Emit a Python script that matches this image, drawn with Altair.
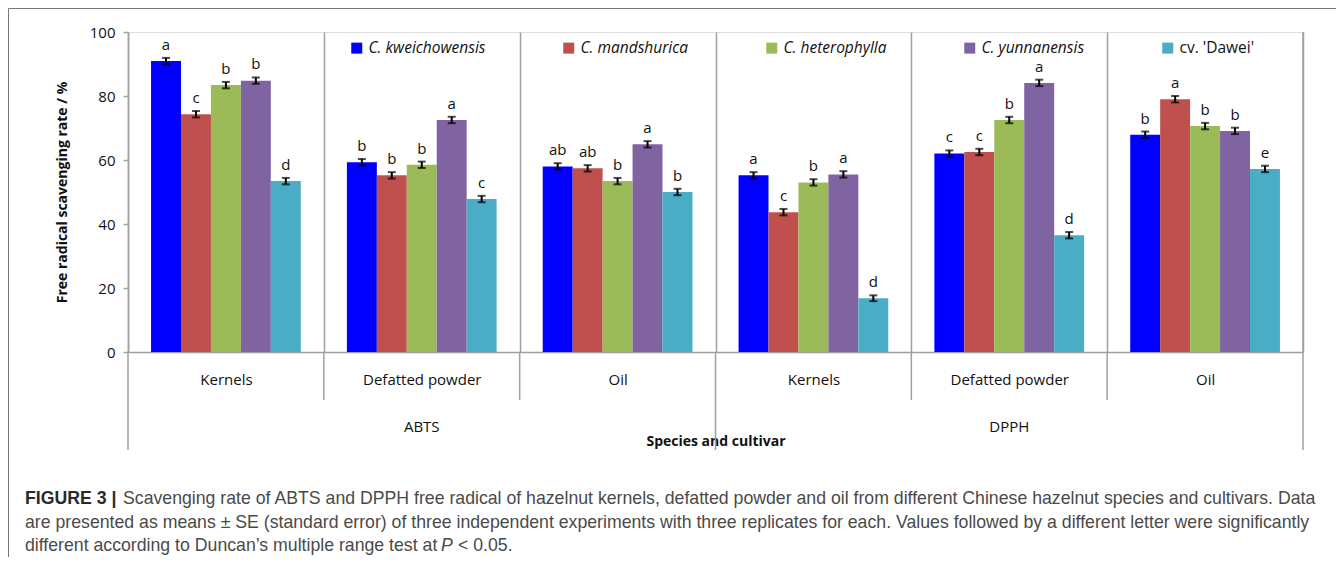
import altair as alt
import pandas as pd

species = ["C. kweichowensis", "C. mandshurica", "C. heterophylla", "C. yunnanensis", "cv. 'Dawei'"]
colors = ["#0000FF", "#C0504D", "#9BBB59", "#8064A2", "#4BACC6"]
methods = ["ABTS", "DPPH"]
materials = ["Kernels", "Defatted powder", "Oil"]
groups = [f"{m}|{t}" for m in methods for t in materials]

# values per species across groups (ABTS K, D, O, DPPH K, D, O)
val_kwei = [90.9, 59.3, 58.0, 55.2, 62.0, 67.9]
val_mand = [74.3, 55.2, 57.4, 43.7, 62.5, 79.0]
val_hete = [83.4, 58.5, 53.4, 53.0, 72.5, 70.6]
val_yunn = [84.8, 72.5, 64.9, 55.5, 84.1, 69.1]
val_dawei = [53.4, 47.8, 50.0, 16.8, 36.5, 57.2]

se_kwei = [1.0, 1.0, 1.0, 1.0, 1.0, 1.0]
se_mand = [1.0, 1.0, 1.0, 1.0, 1.0, 1.0]
se_hete = [1.0, 1.0, 1.0, 1.0, 1.0, 1.0]
se_yunn = [1.0, 1.0, 1.0, 1.0, 1.0, 1.0]
se_dawei = [1.0, 1.0, 1.0, 0.9, 1.0, 1.0]

let_kwei = ["a", "b", "ab", "a", "c", "b"]
let_mand = ["c", "b", "ab", "c", "c", "a"]
let_hete = ["b", "b", "b", "b", "b", "b"]
let_yunn = ["b", "a", "a", "a", "a", "b"]
let_dawei = ["d", "c", "b", "d", "d", "e"]

y_title = "Free radical scavenging rate / %"
x_title = "Species and cultivar"
y_ticks = [0, 20, 40, 60, 80, 100]

cap1_bold = "FIGURE 3 |"
cap1 = ("Scavenging rate of ABTS and DPPH free radical of hazelnut kernels, defatted powder and oil "
        "from different Chinese hazelnut species and cultivars. Data")
cap2 = ("are presented as means \u00b1 SE (standard error) of three independent experiments with three "
        "replicates for each. Values followed by a different letter were significantly")
cap3a = "different according to Duncan\u2019s multiple range test at"
cap3b = "P"
cap3c = "< 0.05."

rows = []
for sp, vals, ses, lets in zip(
    species,
    [val_kwei, val_mand, val_hete, val_yunn, val_dawei],
    [se_kwei, se_mand, se_hete, se_yunn, se_dawei],
    [let_kwei, let_mand, let_hete, let_yunn, let_dawei],
):
    for g, v, s, l in zip(groups, vals, ses, lets):
        rows.append(dict(grp=g, species=sp, value=v, lo=v - s, hi=v + s, letter=l))
df = pd.DataFrame(rows)

FONT = "Open Sans"
CAPFONT = "Liberation Sans"
GRID = "#a0a0a0"

x_axis = alt.Axis(
    title=x_title, labelExpr="split(datum.label, '|')[1]", labelAngle=0,
    ticks=False, tickSize=0, grid=True, tickBand="extent", gridColor=GRID, gridWidth=1.5,
    domainColor=GRID, domainWidth=1.5, labelFont=FONT, labelFontSize=15, labelColor="#111",
    labelPadding=20, titleFont=FONT, titleFontSize=14, titleFontWeight="bold",
    titleColor="#111", titlePadding=47,
)
x_scale = alt.Scale(paddingInner=0, paddingOuter=0)
y_axis = alt.Axis(
    title=y_title, values=y_ticks, grid=False, domainColor=GRID, domainWidth=1.5,
    tickColor=GRID, tickWidth=1.5, tickSize=5, labelFont=FONT, labelFontSize=15,
    labelColor="#111", labelPadding=8, titleFont=FONT, titleFontSize=14,
    titleFontWeight="bold", titleColor="#111", titlePadding=20,
)
y_scale = alt.Scale(domain=[0, 100], nice=False)


def X(**kw):
    return alt.X("grp:N", sort=groups, scale=x_scale, axis=x_axis, **kw)


def XO():
    return alt.XOffset("species:N", sort=species,
                       scale=alt.Scale(paddingOuter=0.77, paddingInner=0))


base = alt.Chart(df)

bars = base.mark_bar().encode(
    x=X(),
    xOffset=XO(),
    y=alt.Y("value:Q", scale=y_scale, axis=y_axis),
    color=alt.Color(
        "species:N", sort=species,
        scale=alt.Scale(domain=species, range=colors),
        legend=alt.Legend(
            title=None, orient="none", legendX=221, legendY=8, direction="horizontal",
            columns=5, columnPadding=75, symbolType="square", symbolSize=121,
            symbolStrokeWidth=0, labelOffset=4, labelFont=FONT, labelFontSize=15.5,
            labelColor="#111", padding=0,
            labelFontStyle=alt.ExprRef("substring(datum.label, 0, 3) == 'cv.' ? 'normal' : 'italic'"),
        ),
    ),
)

err = base.mark_rule(color="black", strokeWidth=2).encode(
    x=X(), xOffset=XO(),
    y=alt.Y("lo:Q", scale=y_scale, axis=y_axis), y2="hi:Q",
)
cap_lo = base.mark_tick(color="black", thickness=2, size=8).encode(
    x=X(), xOffset=XO(), y=alt.Y("lo:Q", scale=y_scale, axis=y_axis),
)
cap_hi = base.mark_tick(color="black", thickness=2, size=8).encode(
    x=X(), xOffset=XO(), y=alt.Y("hi:Q", scale=y_scale, axis=y_axis),
)
letters = base.mark_text(font=FONT, fontSize=15, color="#111", baseline="alphabetic", dy=-8).encode(
    x=X(), xOffset=XO(), y=alt.Y("hi:Q", scale=y_scale, axis=y_axis), text="letter:N",
)

sep_df = pd.DataFrame({"grp": groups, "material": [g.split("|")[1] for g in groups]})
sep_short = alt.Chart(sep_df).transform_filter(
    f"datum.material != '{materials[0]}'"
).mark_rule(color=GRID, strokeWidth=1.5).encode(
    x=X(bandPosition=0), y=alt.value(320), y2=alt.value(368),
)
sep_long = alt.Chart(sep_df).transform_filter(
    f"datum.material == '{materials[0]}'"
).mark_rule(color=GRID, strokeWidth=1.5).encode(
    x=X(bandPosition=0), y=alt.value(320), y2=alt.value(418),
)
sep_end = alt.Chart(sep_df.head(1)).mark_rule(color=GRID, strokeWidth=1.5).encode(
    x=alt.value(1175), y=alt.value(0), y2=alt.value(418),
)

meth_df = pd.DataFrame({"method": methods, "grp": [f"{m}|{materials[1]}" for m in methods]})
meth_text = alt.Chart(meth_df).mark_text(font=FONT, fontSize=15, color="#111").encode(
    x=X(), y=alt.value(395), text="method:N",
)


def cap_text(t, x, y, weight="normal", style="normal", color="#4a4a4a"):
    return alt.Chart(pd.DataFrame({"t": [t]})).mark_text(
        align="left", baseline="alphabetic", font=CAPFONT, fontSize=17.7,
        fontWeight=weight, fontStyle=style, color=color,
    ).encode(text="t:N", x=alt.value(x), y=alt.value(y))


caption = (
    cap_text(cap1_bold, -103, 472, weight="bold", color="#2a2a2a")
    + cap_text(cap1, -5, 472)
    + cap_text(cap2, -103, 495.5)
    + cap_text(cap3a, -103, 519)
    + cap_text(cap3b, 313, 519, style="italic")
    + cap_text(cap3c, 330, 519)
)

frame = alt.Chart(pd.DataFrame({"a": [0]})).mark_rect(
    filled=False, stroke="#777", strokeWidth=1
).encode(
    x=alt.value(-119.5), x2=alt.value(1300), y=alt.value(-23.5), y2=alt.value(700),
)

chart = alt.layer(
    frame, bars, err, cap_lo, cap_hi, letters, sep_short, sep_long, sep_end, meth_text, caption
).properties(
    width=1175, height=320,
    autosize=alt.AutoSizeParams(type="none"),
    padding={"left": 120, "top": 24, "right": 33, "bottom": 205},
).configure_view(stroke=GRID, strokeWidth=1.5).configure(background="white")

chart.save("out.html", embed_options={"renderer": "svg", "actions": False})
